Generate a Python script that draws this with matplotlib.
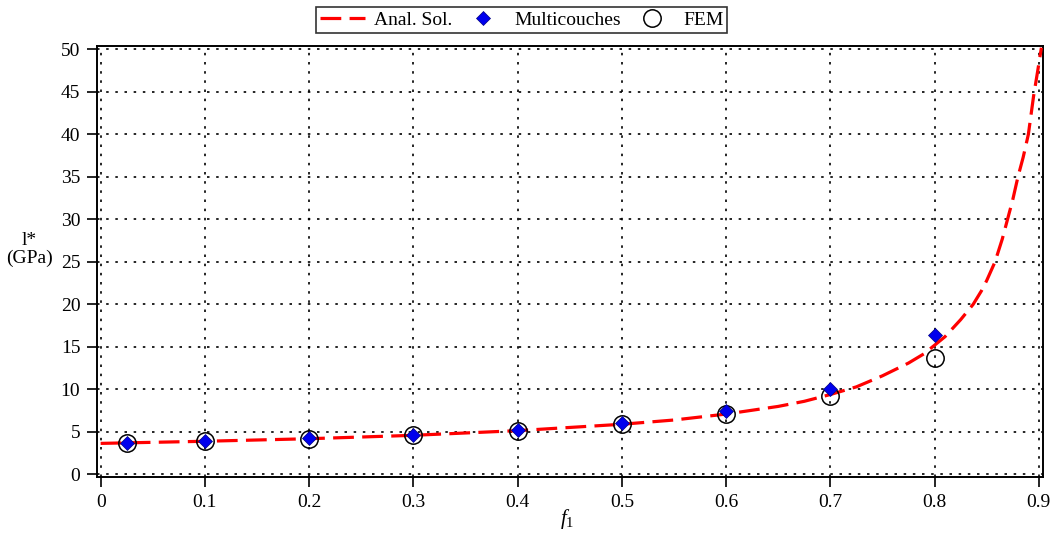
import matplotlib
matplotlib.use("Agg")
import matplotlib.pyplot as plt
from matplotlib.lines import Line2D

# Analytical solution
anal_x = [0.0, 0.1, 0.2, 0.3, 0.4, 0.5, 0.55, 0.6, 0.65, 0.675, 0.7, 0.725,
          0.75, 0.775, 0.79, 0.8, 0.81, 0.825, 0.837, 0.845, 0.85, 0.858,
          0.865, 0.87, 0.875, 0.88, 0.885, 0.89, 0.895, 0.899, 0.9025]
anal_y = [3.65, 3.9, 4.2, 4.6, 5.15, 5.9, 6.4, 7.1, 8.0, 8.6, 9.4, 10.3,
          11.6, 13.1, 14.2, 15.2, 16.2, 18.2, 20.0, 21.6, 22.8, 25.0,
          27.7, 30.0, 32.3, 35.0, 37.3, 40.0, 44.5, 47.5, 50.2]

# Multicouches (blue diamonds)
multi_x = [0.025, 0.1, 0.2, 0.3, 0.4, 0.5, 0.6, 0.7, 0.8]
multi_y = [3.72, 3.95, 4.27, 4.69, 5.24, 6.1, 7.5, 10.05, 16.4]

# FEM (open circles)
fem_x = [0.025, 0.1, 0.2, 0.3, 0.4, 0.5, 0.6, 0.7, 0.8]
fem_y = [3.68, 3.88, 4.2, 4.62, 5.15, 5.98, 7.15, 9.2, 13.7]

xticks = [0, 0.1, 0.2, 0.3, 0.4, 0.5, 0.6, 0.7, 0.8, 0.9]
xticklabels = ["0", "0.1", "0.2", "0.3", "0.4", "0.5", "0.6", "0.7", "0.8", "0.9"]
yticks = [0, 5, 10, 15, 20, 25, 30, 35, 40, 45, 50]

plt.rcParams['font.family'] = ['Liberation Serif', 'DejaVu Serif']
plt.rcParams['mathtext.fontset'] = 'custom'
plt.rcParams['mathtext.it'] = 'Liberation Serif:italic'
plt.rcParams['mathtext.rm'] = 'Liberation Serif'

FS = 14

fig = plt.figure(figsize=(10.52, 5.37), dpi=100)
ax = fig.add_axes([0.0922, 0.1118, 0.8992, 0.8025])

ax.plot(anal_x, anal_y, color='red', lw=2.3, dashes=(6.5, 2.6), zorder=3)
ax.plot(fem_x, fem_y, linestyle='none', marker='o', ms=12.5, mfc='none',
        mec='black', mew=1.1, zorder=4)
ax.plot(multi_x, multi_y, linestyle='none', marker='D', ms=7.5, mfc='#0000ee',
        mec='#000080', mew=0.5, zorder=5)

ax.set_xlim(-0.0035, 0.904)
ax.set_ylim(-0.3, 50.4)
ax.set_xticks(xticks)
ax.set_xticklabels(xticklabels)
ax.set_yticks(yticks)
ax.tick_params(direction='out', length=7, width=1.2, labelsize=FS, pad=5,
               colors='black')
ax.grid(True, color='black', linestyle=(0, (1.5, 4)), linewidth=1.2)
for s in ax.spines.values():
    s.set_linewidth(1.4)
    s.set_color('black')

fig.text(0.028, 0.535, "l*\n(GPa)", ha='center', va='center', fontsize=FS,
         linespacing=1.05)
fig.text(0.539, 0.034, r"$f_1$", ha='center', va='center', fontsize=15)

handles = [
    Line2D([], [], color='red', lw=2.3, dashes=(6.5, 2.6)),
    Line2D([], [], linestyle='none', marker='D', ms=7.5, mfc='#0000ee',
           mec='#000080', mew=0.5),
    Line2D([], [], linestyle='none', marker='o', ms=12.5, mfc='none',
           mec='black', mew=1.1),
]
leg = fig.legend(handles, ["Anal. Sol.", "Multicouches", "FEM"], ncol=3,
                 loc='center', bbox_to_anchor=(0.496, 0.9628), fontsize=FS,
                 frameon=True, fancybox=False, edgecolor='black',
                 handlelength=2.3, columnspacing=0.45, handletextpad=0.45,
                 borderpad=0.2, borderaxespad=0)
leg.get_frame().set_linewidth(1.2)

fig.savefig("out.png", dpi=100)
